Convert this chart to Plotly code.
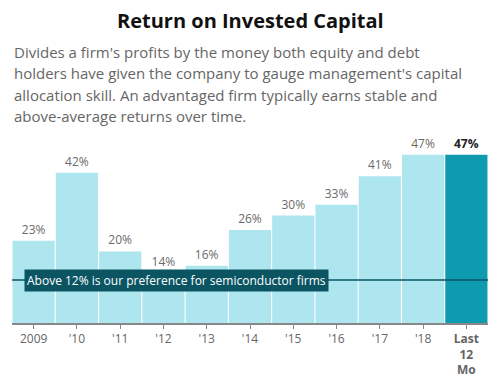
import plotly.graph_objects as go

categories = ["2009", "'10", "'11", "'12", "'13", "'14", "'15", "'16", "'17", "'18", "Last<br>12<br>Mo"]
roic = [23, 42, 20, 14, 16, 26, 30, 33, 41, 47, 47]
labels = ["23%", "42%", "20%", "14%", "16%", "26%", "30%", "33%", "41%", "47%", "<b>47%</b>"]
threshold = 12
title = "Return on Invested Capital"
subtitle_lines = [
    "Divides a firm's profits by the money both equity and debt",
    "holders have given the company to gauge management's capital",
    "allocation skill. An advantaged firm typically earns stable and",
    "above-average returns over time.",
]
note = "Above 12% is our preference for semiconductor firms"

FONT = "Open Sans"
light, dark = "#aee6f0", "#0e9bb0"
colors = [light] * (len(roic) - 1) + [dark]
label_colors = ["#6a6a6a"] * (len(roic) - 1) + ["#222222"]

# page body has an 8px margin; size the figure to fit the 500x390 window
OFF = 8
W, H = 500 - OFF, 390 - OFF
ml, mr, mt, mb = 12 - OFF, 12, 144 - OFF, 67
plot_h = H - mt - mb
plot_w = W - ml - mr


def py(ypx):
    """paper y for a reference-window pixel row"""
    return (H - mb - (ypx - OFF)) / plot_h


fig = go.Figure()
fig.add_trace(go.Bar(
    x=categories, y=roic, marker=dict(color=colors, line=dict(width=0)),
    text=labels, textposition="outside", cliponaxis=False,
    textfont=dict(family=FONT, size=12, color=label_colors),
    hoverinfo="skip",
))

fig.add_shape(type="line", xref="paper", yref="y", x0=0, x1=1, y0=threshold, y1=threshold,
              line=dict(color="#0b5563", width=1.5))

annotations = [
    dict(text=f"<b>{title}</b>", xref="paper", yref="paper",
         x=(250 - OFF - ml) / plot_w, xanchor="center",
         y=py(20), yanchor="middle", showarrow=False,
         font=dict(family=FONT, size=20, color="#111111")),
    dict(text=note, xref="paper", yref="y", x=(24 - 12) / plot_w, xanchor="left",
         y=threshold, yanchor="middle", showarrow=False, bgcolor="#0b5563", borderpad=2,
         font=dict(family=FONT, size=12, color="#ffffff")),
]
line_y = [52, 73, 95, 116]
for txt, ypx in zip(subtitle_lines, line_y):
    annotations.append(dict(text=txt, xref="paper", yref="paper", x=0, xanchor="left",
                            y=py(ypx), yanchor="middle", showarrow=False,
                            font=dict(family=FONT, size=15, color="#666666")))

tick_text = [c if not c.startswith("Last") else f"<b>{c}</b>" for c in categories]

fig.update_layout(
    width=W, height=H, margin=dict(l=ml, r=mr, t=mt, b=mb, autoexpand=False),
    paper_bgcolor="white", plot_bgcolor="white", showlegend=False,
    bargap=0.025, annotations=annotations,
    font=dict(family=FONT),
    xaxis=dict(tickmode="array", tickvals=categories, ticktext=tick_text,
               ticks="outside", ticklen=4, tickcolor="#888888", showline=True,
               linecolor="#888888", linewidth=1.5, showgrid=False, automargin=False,
               tickfont=dict(family=FONT, size=12, color="#666666")),
    yaxis=dict(range=[0, 50], visible=False, showgrid=False),
)

fig.write_html("out.html")
